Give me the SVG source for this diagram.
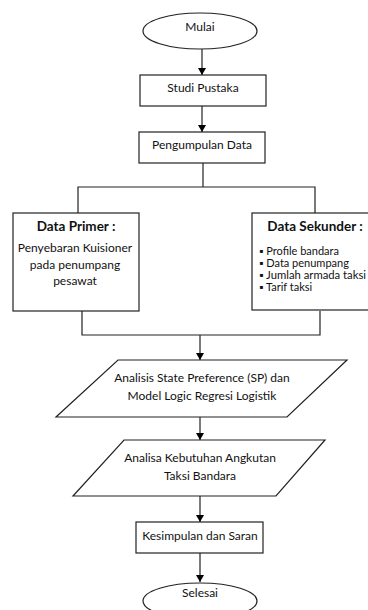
<svg xmlns="http://www.w3.org/2000/svg" width="368" height="610" viewBox="0 0 368 610">
<defs>
<marker id="ah" markerWidth="8" markerHeight="8" refX="7" refY="4" orient="auto" markerUnits="userSpaceOnUse">
<path d="M0,0 L7,4 L0,8 Z" fill="#000"/>
</marker>
<style>
.s{fill:#fff;stroke:#222;stroke-width:1.2}
.c{fill:none;stroke:#222;stroke-width:1.2}
.t{font-family:Lato,"Open Sans","Liberation Sans",sans-serif;font-size:12px;fill:#111;text-anchor:middle}
.b{font-weight:bold;font-size:13.5px}
.l{text-anchor:start;font-size:11px}
</style>
</defs>
<rect width="368" height="610" fill="#fff"/>
<g id="connectors">
<line class="c" x1="202" y1="49" x2="202" y2="75" marker-end="url(#ah)"/>
<line class="c" x1="202" y1="106" x2="202" y2="132" marker-end="url(#ah)"/>
<polyline class="c" points="203,163 203,187"/>
<polyline class="c" points="78,213 78,187 315,187 315,213"/>
<polyline class="c" points="82,311 82,335 320,335 320,311"/>
<line class="c" x1="200" y1="335" x2="200" y2="360" marker-end="url(#ah)"/>
<line class="c" x1="200" y1="417" x2="200" y2="440" marker-end="url(#ah)"/>
<line class="c" x1="200" y1="496" x2="200" y2="522" marker-end="url(#ah)"/>
<line class="c" x1="200" y1="553" x2="200" y2="582" marker-end="url(#ah)"/>
</g>
<g id="mulai">
<ellipse class="s" cx="200" cy="31" rx="57" ry="18"/>
<text class="t" x="200" y="31">Mulai</text>
</g>
<g id="studi">
<rect class="s" x="140" y="75" width="126" height="31"/>
<text class="t" x="203" y="92">Studi Pustaka</text>
</g>
<g id="pengumpulan">
<rect class="s" x="139" y="132" width="126" height="31"/>
<text class="t" x="202" y="149">Pengumpulan Data</text>
</g>
<g id="primer">
<rect class="s" x="13" y="213" width="126" height="98"/>
<text class="t b" x="76" y="231">Data Primer :</text>
<text class="t" x="75" y="252">Penyebaran Kuisioner</text>
<text class="t" x="75" y="269">pada penumpang</text>
<text class="t" x="75" y="285">pesawat</text>
</g>
<g id="sekunder">
<rect class="s" x="252" y="213" width="122" height="97"/>
<text class="t b" x="315" y="231">Data Sekunder :</text>
<text class="t l" x="259" y="255">▪ Profile bandara</text>
<text class="t l" x="259" y="267">▪ Data penumpang</text>
<text class="t l" x="259" y="279" textLength="107" lengthAdjust="spacingAndGlyphs">▪ Jumlah armada taksi</text>
<text class="t l" x="259" y="291">▪ Tarif taksi</text>
</g>
<g id="analisis">
<polygon class="s" points="118,360 347,360 287,417 56,417"/>
<text class="t" x="202" y="382">Analisis State Preference (SP) dan</text>
<text class="t" x="202" y="400">Model Logic Regresi Logistik</text>
</g>
<g id="analisa">
<polygon class="s" points="124,440 325,440 276,496 73,496"/>
<text class="t" x="200" y="462">Analisa Kebutuhan Angkutan</text>
<text class="t" x="200" y="480">Taksi Bandara</text>
</g>
<g id="kesimpulan">
<rect class="s" x="136" y="522" width="127" height="31"/>
<text class="t" x="200" y="540">Kesimpulan dan Saran</text>
</g>
<g id="selesai">
<ellipse class="s" cx="200" cy="601" rx="57" ry="18"/>
<text class="t" x="200" y="597">Selesai</text>
</g>
</svg>
